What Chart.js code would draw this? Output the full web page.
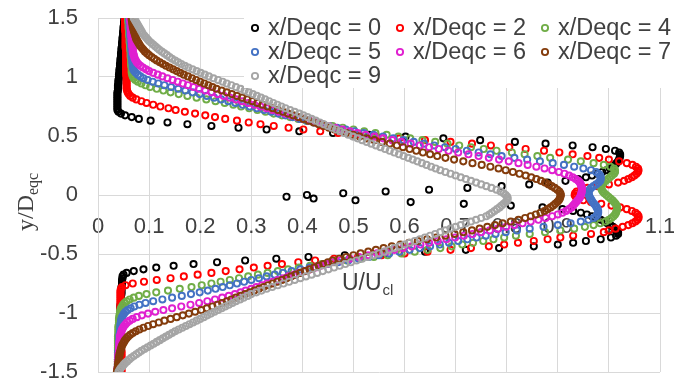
<!DOCTYPE html>
<html>
<head>
<meta charset="utf-8">
<script src="https://cdn.jsdelivr.net/npm/chart.js@4/dist/chart.umd.min.js"></script>
<style>
  html, body { margin: 0; padding: 0; background: #fff; }
  canvas { display: block; }
</style>
</head>
<body>
<canvas id="chart" width="674" height="383"></canvas>
<script>
// y/Deqc sample positions shared by every profile (top to bottom)
const Y_GRID = [
  1.5,1.485,1.47,1.455,1.44,1.425,1.41,1.395,1.38,1.365,
  1.35,1.335,1.32,1.305,1.29,1.275,1.26,1.245,1.23,1.215,
  1.2,1.185,1.17,1.155,1.14,1.125,1.11,1.095,1.08,1.065,
  1.05,1.035,1.02,1.005,0.99,0.975,0.96,0.945,0.93,0.915,
  0.9,0.885,0.87,0.855,0.84,0.825,0.81,0.795,0.78,0.765,
  0.75,0.735,0.72,0.705,0.69,0.675,0.66,0.645,0.63,0.615,
  0.6,0.585,0.57,0.555,0.54,0.525,0.51,0.495,0.48,0.465,
  0.45,0.435,0.42,0.405,0.39,0.375,0.36,0.345,0.33,0.315,
  0.3,0.285,0.27,0.255,0.24,0.225,0.21,0.195,0.18,0.165,
  0.15,0.135,0.12,0.105,0.09,0.075,0.06,0.045,0.03,0.015,
  0,-0.015,-0.03,-0.045,-0.06,-0.075,-0.09,-0.105,-0.12,-0.135,
  -0.15,-0.165,-0.18,-0.195,-0.21,-0.225,-0.24,-0.255,-0.27,-0.285,
  -0.3,-0.315,-0.33,-0.345,-0.36,-0.375,-0.39,-0.405,-0.42,-0.435,
  -0.45,-0.465,-0.48,-0.495,-0.51,-0.525,-0.54,-0.555,-0.57,-0.585,
  -0.6,-0.615,-0.63,-0.645,-0.66,-0.675,-0.69,-0.705,-0.72,-0.735,
  -0.75,-0.765,-0.78,-0.795,-0.81,-0.825,-0.84,-0.855,-0.87,-0.885,
  -0.9,-0.915,-0.93,-0.945,-0.96,-0.975,-0.99,-1.005,-1.02,-1.035,
  -1.05,-1.065,-1.08,-1.095,-1.11,-1.125,-1.14,-1.155,-1.17,-1.185,
  -1.2,-1.215,-1.23,-1.245,-1.26,-1.275,-1.29,-1.305,-1.32,-1.335,
  -1.35,-1.365,-1.38,-1.395,-1.41,-1.425,-1.44,-1.455,-1.47,-1.485,
  -1.5
];

// U/Ucl at each Y_GRID position, one array per station
const U_X0 = [
  0.052,0.052,0.051,0.051,0.051,0.05,0.05,0.05,0.049,0.049,
  0.049,0.048,0.048,0.048,0.047,0.047,0.047,0.046,0.046,0.046,
  0.045,0.045,0.045,0.044,0.044,0.044,0.043,0.043,0.043,0.042,
  0.042,0.042,0.041,0.041,0.041,0.04,0.04,0.04,0.039,0.039,
  0.039,0.039,0.038,0.038,0.038,0.038,0.038,0.038,0.038,0.038,
  0.038,0.038,0.038,0.04,0.045,0.053,0.066,0.08,0.103,0.136,
  0.175,0.222,0.275,0.33,0.394,0.46,0.53,0.602,0.676,0.748,
  0.816,0.876,0.929,0.968,0.994,1.012,1.02,1.022,1.022,1.021,
  1.02,1.018,1.015,1.012,1.008,1.002,0.995,0.987,0.978,0.967,
  0.955,0.94,0.915,0.88,0.844,0.79,0.723,0.648,0.563,0.48,
  0.409,0.369,0.422,0.504,0.612,0.716,0.808,0.87,0.909,0.93,
  0.945,0.957,0.967,0.976,0.984,0.991,0.997,1.003,1.008,1.012,
  1.016,1.018,1.018,1.014,1.004,0.984,0.955,0.93,0.9,0.853,
  0.785,0.72,0.64,0.56,0.483,0.412,0.349,0.288,0.233,0.187,
  0.148,0.114,0.089,0.07,0.056,0.05,0.048,0.048,0.047,0.047,
  0.047,0.047,0.046,0.046,0.046,0.046,0.046,0.045,0.045,0.045,
  0.045,0.045,0.044,0.044,0.044,0.044,0.044,0.043,0.043,0.043,
  0.043,0.043,0.043,0.042,0.042,0.042,0.042,0.042,0.041,0.041,
  0.041,0.041,0.041,0.041,0.04,0.04,0.04,0.04,0.04,0.04,
  0.04,0.04,0.04,0.039,0.039,0.039,0.039,0.039,0.039,0.039,
  0.039
];
const U_X2 = [
  0.053,0.053,0.053,0.053,0.053,0.053,0.053,0.053,0.054,0.054,
  0.054,0.054,0.054,0.054,0.054,0.054,0.054,0.054,0.055,0.055,
  0.055,0.055,0.055,0.055,0.055,0.055,0.055,0.055,0.055,0.055,
  0.055,0.055,0.055,0.056,0.056,0.056,0.056,0.056,0.056,0.056,
  0.056,0.057,0.058,0.06,0.063,0.068,0.075,0.085,0.095,0.108,
  0.122,0.138,0.152,0.17,0.19,0.21,0.229,0.249,0.272,0.295,
  0.318,0.344,0.373,0.402,0.435,0.47,0.505,0.545,0.59,0.64,
  0.69,0.732,0.769,0.805,0.837,0.873,0.903,0.929,0.958,0.981,
  1.0,1.02,1.035,1.046,1.053,1.057,1.058,1.057,1.054,1.05,
  1.045,1.038,1.03,1.018,1.0,0.978,0.958,0.945,0.937,0.934,
  0.933,0.935,0.94,0.95,0.965,0.985,1.005,1.022,1.035,1.045,
  1.052,1.056,1.058,1.058,1.056,1.052,1.046,1.038,1.027,1.013,
  1.0,0.99,0.965,0.93,0.905,0.88,0.853,0.822,0.795,0.765,
  0.73,0.69,0.645,0.6,0.555,0.509,0.462,0.425,0.392,0.36,
  0.332,0.305,0.277,0.25,0.222,0.195,0.168,0.142,0.115,0.09,
  0.068,0.054,0.047,0.045,0.044,0.044,0.044,0.044,0.044,0.044,
  0.044,0.044,0.044,0.044,0.044,0.044,0.044,0.044,0.044,0.044,
  0.044,0.044,0.044,0.045,0.045,0.045,0.045,0.045,0.045,0.045,
  0.045,0.045,0.045,0.045,0.045,0.045,0.045,0.045,0.046,0.046,
  0.046,0.046,0.046,0.046,0.046,0.046,0.046,0.046,0.046,0.046,
  0.046
];
const U_X4 = [
  0.059,0.059,0.059,0.06,0.06,0.06,0.06,0.061,0.061,0.061,
  0.061,0.062,0.062,0.062,0.062,0.063,0.063,0.063,0.063,0.064,
  0.064,0.064,0.064,0.065,0.065,0.065,0.065,0.065,0.066,0.066,
  0.066,0.066,0.067,0.068,0.07,0.073,0.078,0.085,0.093,0.102,
  0.115,0.128,0.142,0.158,0.175,0.193,0.212,0.23,0.248,0.265,
  0.28,0.296,0.312,0.328,0.344,0.36,0.376,0.392,0.408,0.424,
  0.44,0.459,0.479,0.5,0.521,0.543,0.565,0.588,0.611,0.635,
  0.66,0.684,0.707,0.73,0.755,0.78,0.81,0.835,0.86,0.885,
  0.92,0.945,0.97,0.99,1.003,1.01,1.012,1.012,1.01,1.006,
  1.002,0.998,0.994,0.99,0.987,0.985,0.985,0.986,0.988,0.991,
  0.995,0.999,1.003,1.007,1.01,1.013,1.015,1.016,1.016,1.015,
  1.014,1.012,1.009,1.005,1.0,0.993,0.983,0.97,0.953,0.932,
  0.905,0.875,0.845,0.818,0.795,0.774,0.754,0.734,0.713,0.692,
  0.67,0.645,0.62,0.594,0.567,0.54,0.513,0.487,0.462,0.438,
  0.415,0.393,0.372,0.352,0.332,0.313,0.294,0.276,0.258,0.24,
  0.222,0.203,0.183,0.16,0.137,0.114,0.095,0.08,0.07,0.062,
  0.056,0.052,0.049,0.047,0.045,0.044,0.043,0.043,0.042,0.042,
  0.041,0.041,0.041,0.041,0.04,0.04,0.04,0.04,0.04,0.04,
  0.039,0.039,0.039,0.039,0.039,0.039,0.039,0.039,0.039,0.039,
  0.039,0.039,0.039,0.039,0.039,0.04,0.04,0.04,0.04,0.04,
  0.04
];
const U_X5 = [
  0.061,0.061,0.061,0.062,0.062,0.062,0.062,0.063,0.063,0.063,
  0.063,0.064,0.064,0.064,0.064,0.065,0.065,0.065,0.065,0.066,
  0.066,0.066,0.066,0.067,0.067,0.067,0.068,0.068,0.068,0.069,
  0.071,0.074,0.078,0.083,0.089,0.097,0.107,0.118,0.13,0.143,
  0.157,0.171,0.185,0.199,0.213,0.227,0.241,0.255,0.269,0.283,
  0.297,0.311,0.325,0.339,0.353,0.367,0.381,0.395,0.409,0.423,
  0.437,0.452,0.468,0.485,0.502,0.52,0.539,0.558,0.578,0.598,
  0.618,0.638,0.658,0.679,0.7,0.722,0.745,0.768,0.79,0.815,
  0.84,0.865,0.89,0.912,0.932,0.95,0.965,0.975,0.98,0.983,
  0.984,0.984,0.983,0.98,0.975,0.97,0.965,0.962,0.96,0.96,
  0.961,0.962,0.964,0.966,0.968,0.971,0.974,0.976,0.978,0.979,
  0.979,0.978,0.975,0.97,0.96,0.945,0.925,0.9,0.872,0.845,
  0.82,0.798,0.778,0.759,0.741,0.723,0.705,0.687,0.669,0.65,
  0.63,0.61,0.59,0.57,0.55,0.53,0.51,0.49,0.47,0.451,
  0.432,0.414,0.396,0.379,0.362,0.346,0.33,0.315,0.3,0.286,
  0.272,0.258,0.244,0.23,0.215,0.199,0.182,0.164,0.145,0.126,
  0.108,0.093,0.081,0.071,0.064,0.058,0.054,0.051,0.049,0.047,
  0.046,0.045,0.045,0.044,0.044,0.044,0.043,0.043,0.043,0.042,
  0.042,0.042,0.042,0.041,0.041,0.041,0.041,0.041,0.04,0.04,
  0.04,0.04,0.04,0.04,0.04,0.04,0.039,0.039,0.039,0.039,
  0.039
];
const U_X6 = [
  0.063,0.063,0.063,0.064,0.064,0.064,0.064,0.065,0.065,0.065,
  0.065,0.066,0.066,0.066,0.067,0.067,0.067,0.068,0.068,0.068,
  0.069,0.07,0.071,0.072,0.074,0.076,0.079,0.083,0.088,0.094,
  0.1,0.108,0.117,0.126,0.136,0.146,0.156,0.166,0.176,0.187,
  0.198,0.21,0.222,0.234,0.246,0.258,0.27,0.282,0.294,0.306,
  0.318,0.33,0.342,0.354,0.366,0.378,0.39,0.402,0.414,0.426,
  0.438,0.451,0.464,0.478,0.493,0.508,0.524,0.541,0.558,0.576,
  0.594,0.612,0.63,0.648,0.667,0.686,0.705,0.725,0.745,0.765,
  0.785,0.804,0.823,0.841,0.858,0.874,0.889,0.902,0.913,0.922,
  0.929,0.935,0.94,0.943,0.945,0.946,0.947,0.947,0.947,0.946,
  0.945,0.944,0.942,0.939,0.936,0.933,0.93,0.927,0.922,0.916,
  0.909,0.9,0.889,0.876,0.862,0.847,0.831,0.815,0.799,0.783,
  0.767,0.75,0.733,0.716,0.699,0.682,0.665,0.648,0.631,0.614,
  0.597,0.58,0.563,0.546,0.529,0.511,0.493,0.475,0.457,0.447,
  0.436,0.426,0.415,0.405,0.394,0.384,0.373,0.363,0.352,0.342,
  0.331,0.321,0.31,0.3,0.289,0.279,0.268,0.256,0.243,0.229,
  0.214,0.198,0.181,0.163,0.145,0.128,0.112,0.098,0.086,0.076,
  0.068,0.062,0.057,0.054,0.051,0.049,0.047,0.046,0.045,0.044,
  0.043,0.043,0.043,0.042,0.042,0.042,0.041,0.041,0.041,0.041,
  0.04,0.04,0.04,0.04,0.04,0.039,0.039,0.039,0.038,0.038,
  0.038
];
const U_X7 = [
  0.066,0.066,0.067,0.067,0.068,0.068,0.069,0.07,0.071,0.072,
  0.073,0.074,0.075,0.077,0.079,0.081,0.083,0.086,0.089,0.092,
  0.096,0.1,0.105,0.11,0.115,0.121,0.127,0.133,0.14,0.147,
  0.154,0.161,0.168,0.176,0.184,0.192,0.2,0.208,0.216,0.224,
  0.232,0.242,0.252,0.262,0.272,0.282,0.292,0.302,0.312,0.322,
  0.332,0.342,0.352,0.362,0.372,0.382,0.392,0.402,0.412,0.422,
  0.432,0.442,0.452,0.463,0.474,0.486,0.499,0.512,0.526,0.541,
  0.556,0.571,0.585,0.597,0.61,0.623,0.636,0.65,0.664,0.68,
  0.697,0.715,0.733,0.751,0.768,0.784,0.798,0.812,0.825,0.837,
  0.848,0.858,0.867,0.875,0.882,0.888,0.894,0.899,0.903,0.905,
  0.906,0.905,0.904,0.902,0.899,0.895,0.891,0.886,0.88,0.874,
  0.866,0.857,0.847,0.836,0.823,0.808,0.792,0.777,0.762,0.747,
  0.732,0.715,0.698,0.68,0.662,0.644,0.626,0.609,0.592,0.575,
  0.559,0.544,0.529,0.514,0.5,0.486,0.472,0.459,0.45,0.441,
  0.432,0.423,0.414,0.405,0.396,0.387,0.378,0.369,0.36,0.351,
  0.342,0.333,0.324,0.315,0.306,0.297,0.288,0.279,0.27,0.261,
  0.252,0.243,0.234,0.224,0.213,0.202,0.19,0.178,0.166,0.154,
  0.142,0.13,0.119,0.108,0.098,0.089,0.081,0.074,0.068,0.063,
  0.059,0.056,0.053,0.051,0.049,0.047,0.046,0.045,0.044,0.043,
  0.042,0.042,0.041,0.041,0.04,0.04,0.039,0.039,0.038,0.038,
  0.037
];
const U_X9 = [
  0.07,0.072,0.074,0.076,0.078,0.08,0.082,0.084,0.086,0.088,
  0.091,0.094,0.097,0.1,0.104,0.108,0.112,0.116,0.12,0.125,
  0.13,0.135,0.14,0.145,0.151,0.157,0.163,0.17,0.177,0.185,
  0.193,0.201,0.209,0.217,0.226,0.235,0.244,0.252,0.261,0.27,
  0.279,0.287,0.295,0.303,0.311,0.319,0.327,0.335,0.343,0.351,
  0.359,0.367,0.376,0.385,0.394,0.402,0.41,0.418,0.426,0.434,
  0.442,0.45,0.458,0.466,0.474,0.482,0.49,0.499,0.508,0.517,
  0.526,0.535,0.544,0.553,0.562,0.571,0.58,0.589,0.598,0.607,
  0.616,0.625,0.634,0.643,0.652,0.661,0.67,0.68,0.69,0.7,
  0.71,0.72,0.73,0.74,0.75,0.76,0.77,0.78,0.788,0.794,
  0.798,0.801,0.802,0.801,0.798,0.794,0.79,0.786,0.781,0.776,
  0.771,0.766,0.76,0.75,0.74,0.73,0.72,0.71,0.7,0.69,
  0.68,0.67,0.66,0.65,0.64,0.63,0.62,0.61,0.6,0.59,
  0.58,0.57,0.56,0.55,0.539,0.528,0.517,0.506,0.495,0.484,
  0.473,0.462,0.451,0.44,0.429,0.418,0.407,0.396,0.385,0.374,
  0.363,0.352,0.341,0.33,0.32,0.31,0.3,0.293,0.285,0.278,
  0.27,0.263,0.256,0.249,0.242,0.235,0.228,0.221,0.214,0.207,
  0.2,0.193,0.186,0.179,0.172,0.165,0.158,0.151,0.145,0.139,
  0.133,0.127,0.121,0.115,0.109,0.103,0.097,0.091,0.085,0.08,
  0.075,0.07,0.065,0.061,0.057,0.053,0.05,0.047,0.044,0.042,
  0.04
];

const X_TICKS = [0, 0.1, 0.2, 0.3, 0.4, 0.5, 0.6, 0.7, 0.8, 0.9, 1, 1.1];
const Y_TICKS = [-1.5, -1, -0.5, 0, 0.5, 1, 1.5];

const SERIES = [
  { label: 'x/Deqc = 0', xs: U_X0, color: '#000000' },
  { label: 'x/Deqc = 2', xs: U_X2, color: '#ff0000' },
  { label: 'x/Deqc = 4', xs: U_X4, color: '#70ad47' },
  { label: 'x/Deqc = 5', xs: U_X5, color: '#4472c4' },
  { label: 'x/Deqc = 6', xs: U_X6, color: '#e020d0' },
  { label: 'x/Deqc = 7', xs: U_X7, color: '#843c0c' },
  { label: 'x/Deqc = 9', xs: U_X9, color: '#a5a5a5' }
];

const SANS = '"Liberation Sans", Arial, sans-serif';
const SERIF = '"Liberation Serif", "Times New Roman", serif';
const TEXT = '#404040';
const GRID = '#d9d9d9';
const R = 3.1;
const RW = 1.9;

const tickText = v => String(Math.round(v * 10) / 10);
const noPad = s => { s.paddingLeft = 0; s.paddingRight = 0; s.paddingTop = 0; s.paddingBottom = 0; };

// legend box laid over the top right of the plot, three items per row
const boxLegend = {
  id: 'boxLegend',
  afterDraw(chart) {
    const ctx = chart.ctx;
    ctx.save();
    ctx.fillStyle = '#fff';
    ctx.fillRect(244, 0, 430, 88);
    ctx.font = '23.5px ' + SANS;
    ctx.textBaseline = 'middle';
    ctx.textAlign = 'left';
    const colX = [255, 400, 545];
    const rowY = [28, 52, 76];
    chart.data.datasets.forEach((ds, i) => {
      const x = colX[i % 3], y = rowY[Math.floor(i / 3)];
      ctx.beginPath();
      ctx.arc(x, y, R, 0, Math.PI * 2);
      ctx.lineWidth = RW;
      ctx.strokeStyle = ds.borderColor;
      ctx.stroke();
      ctx.fillStyle = TEXT;
      ctx.fillText(ds.label, x + 13, y + 1);
    });
    ctx.restore();
  }
};

// axis titles with subscripts
const axisTitles = {
  id: 'axisTitles',
  afterDraw(chart) {
    const ctx = chart.ctx;
    ctx.save();
    ctx.fillStyle = TEXT;
    ctx.textBaseline = 'alphabetic';
    ctx.textAlign = 'left';
    ctx.font = '23px ' + SANS;
    ctx.fillText('U/U', 342, 290);
    let w = ctx.measureText('U/U').width;
    ctx.font = '15px ' + SANS;
    ctx.fillText('cl', 342 + w + 1, 295);
    ctx.translate(33, 231);
    ctx.rotate(-Math.PI / 2);
    ctx.font = '24px ' + SERIF;
    ctx.fillText('y/D', 0, 0);
    w = ctx.measureText('y/D').width;
    ctx.font = '16px ' + SERIF;
    ctx.fillText('eqc', w, 5);
    ctx.restore();
  }
};

new Chart(document.getElementById('chart'), {
  type: 'scatter',
  data: {
    datasets: SERIES.map((s, i) => ({
      label: s.label,
      data: s.xs.map((x, k) => ({ x: x, y: Y_GRID[k] })),
      borderColor: s.color,
      backgroundColor: 'rgba(0,0,0,0)',
      pointStyle: 'circle',
      pointRadius: R,
      pointBorderWidth: RW,
      showLine: false,
      order: SERIES.length - i
    }))
  },
  options: {
    responsive: false,
    animation: false,
    devicePixelRatio: 1,
    layout: { padding: { left: 0, right: 14, top: 18, bottom: 11 } },
    plugins: { legend: { display: false }, tooltip: { enabled: false } },
    scales: {
      x: {
        type: 'linear',
        min: 0, max: 1.1,
        position: { y: 0 },
        afterBuildTicks: s => { s.ticks = X_TICKS.map(v => ({ value: v })); },
        afterFit: noPad,
        ticks: { font: { family: SANS, size: 22 }, color: TEXT, padding: 19, maxRotation: 0, autoSkip: false, callback: tickText },
        grid: { color: GRID, lineWidth: 1, drawTicks: false },
        border: { color: GRID }
      },
      y: {
        type: 'linear',
        min: -1.5, max: 1.5,
        afterBuildTicks: s => { s.ticks = Y_TICKS.map(v => ({ value: v })); },
        afterFit: s => { noPad(s); s.width = 98; },
        ticks: { font: { family: SANS, size: 22 }, color: TEXT, padding: 20, callback: tickText },
        grid: { color: GRID, lineWidth: 1, drawTicks: false },
        border: { color: GRID }
      }
    }
  },
  plugins: [boxLegend, axisTitles]
});
</script>
</body>
</html>
